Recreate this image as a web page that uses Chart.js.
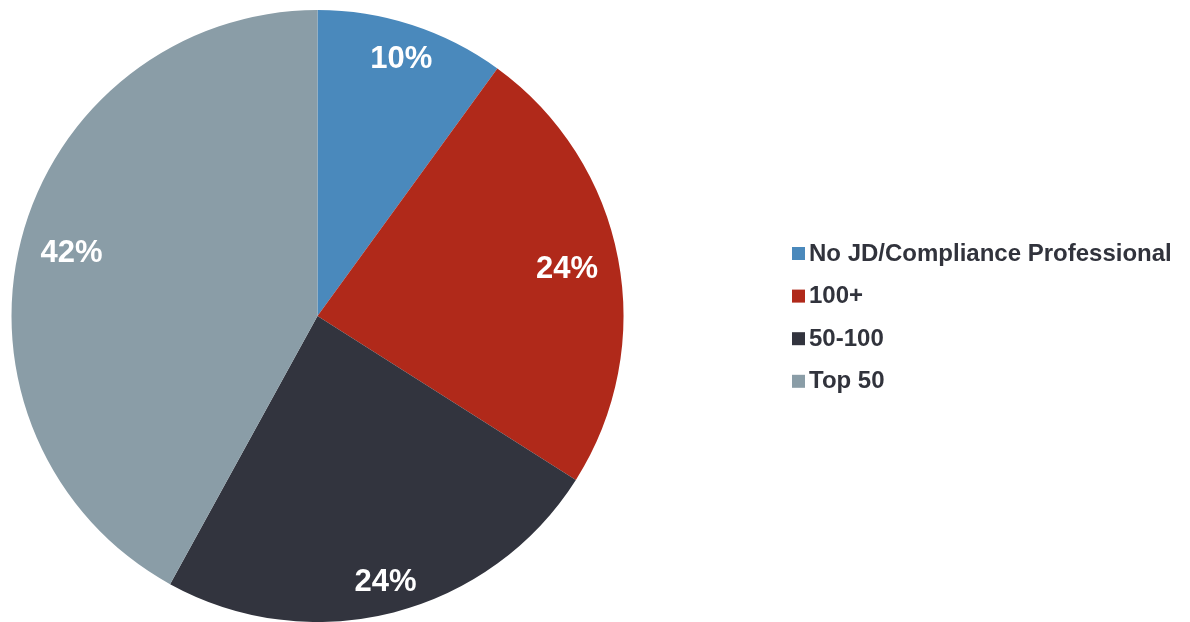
<!DOCTYPE html>
<html>
<head>
<meta charset="utf-8">
<script src="https://cdn.jsdelivr.net/npm/chart.js@4.4.1/dist/chart.umd.min.js"></script>
<style>
  html, body { margin: 0; padding: 0; background: #ffffff; }
  #wrap { position: relative; width: 1190px; height: 622px; }
</style>
</head>
<body>
<div id="wrap"><canvas id="pie" width="1190" height="622"></canvas></div>
<script>
// Share of respondents by background
const categories = ['No JD/Compliance Professional', '100+', '50-100', 'Top 50'];
const shares = [10, 24, 24, 42];
const sliceColors = ['#4A89BC', '#B0291A', '#32343E', '#8A9DA7'];

// White percentage labels drawn inside each slice, along its middle angle
const sliceLabels = {
  id: 'sliceLabels',
  afterDatasetsDraw(chart, args, opts) {
    const ctx = chart.ctx;
    const meta = chart.getDatasetMeta(0);
    ctx.save();
    ctx.fillStyle = opts.color;
    ctx.font = opts.font;
    ctx.textAlign = 'center';
    ctx.textBaseline = 'middle';
    meta.data.forEach((arc, i) => {
      const p = arc.getProps(['x', 'y', 'startAngle', 'endAngle', 'outerRadius'], true);
      const mid = (p.startAngle + p.endAngle) / 2;
      const r = p.outerRadius * opts.radius[i];
      const v = chart.data.datasets[0].data[i];
      ctx.fillText(v + '%', p.x + Math.cos(mid) * r, p.y + Math.sin(mid) * r + 1);
    });
    ctx.restore();
  }
};

// Legend column on the right: square swatch followed by bold label
const sideLegend = {
  id: 'sideLegend',
  afterDraw(chart, args, opts) {
    const ctx = chart.ctx;
    const ds = chart.data.datasets[0];
    ctx.save();
    ctx.font = opts.font;
    ctx.textAlign = 'left';
    ctx.textBaseline = 'alphabetic';
    chart.data.labels.forEach((label, i) => {
      const top = opts.top + i * opts.spacing;
      ctx.fillStyle = ds.backgroundColor[i];
      ctx.fillRect(opts.x, top, opts.box, opts.box);
      ctx.fillStyle = opts.color;
      ctx.fillText(label, opts.textX, top + opts.box + 0.5);
    });
    ctx.restore();
  }
};

new Chart(document.getElementById('pie'), {
  type: 'pie',
  data: {
    labels: categories,
    datasets: [{
      data: shares,
      backgroundColor: sliceColors,
      borderWidth: 0
    }]
  },
  options: {
    responsive: false,
    animation: false,
    layout: { padding: { left: 11.5, top: 10, right: 566.5, bottom: 0 } },
    plugins: {
      legend: { display: false },
      tooltip: { enabled: false },
      sliceLabels: {
        color: '#ffffff',
        font: 'bold 31px "Liberation Sans", Arial, sans-serif',
        radius: [0.885, 0.83, 0.895, 0.83]
      },
      sideLegend: {
        x: 792, top: 247, spacing: 42.6, box: 13, textX: 809,
        color: '#31333C',
        font: 'bold 24px "Liberation Sans", Arial, sans-serif'
      }
    }
  },
  plugins: [sliceLabels, sideLegend]
});
</script>
</body>
</html>
